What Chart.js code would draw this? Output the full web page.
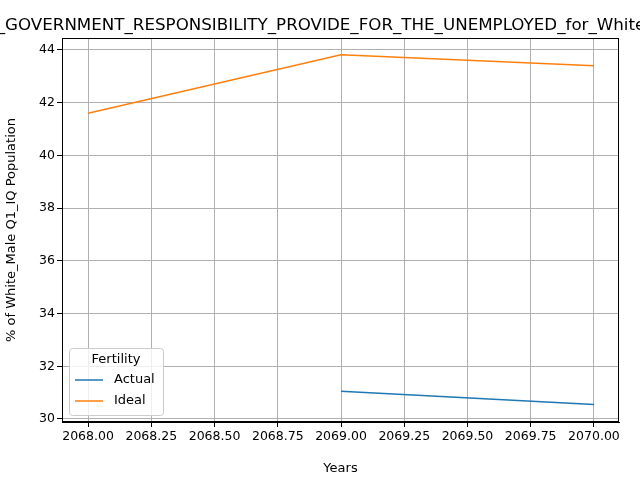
<!DOCTYPE html>
<html>
<head>
<script src="https://cdn.jsdelivr.net/npm/chart.js@4"></script>
<style>body{margin:0}#c{width:640px;height:480px}</style>
</head>
<body>
<div id="c"><canvas id="chart" width="640" height="480"></canvas></div>
<script>
// values
var years_actual=[2069,2070];
var actual=[31.05,30.55];
var years_ideal=[2068,2069,2070];
var ideal=[41.6,43.82,43.4];
var x_ticks=[2068,2068.25,2068.5,2068.75,2069,2069.25,2069.5,2069.75,2070];
var y_ticks=[30,32,34,36,38,40,42,44];
var titleText="Opinion_GOVERNMENT_RESPONSIBILITY_PROVIDE_FOR_THE_UNEMPLOYED_for_White_Male Q1_IQ";
var font="DejaVu Sans";

function pts(xs,ys){
    var out=[];
    for(var i=0;i<xs.length;i++){ out.push({x:xs[i],y:ys[i]}); }
    return out;
}

var titlePlugin={
    id:"mplTitle",
    afterDraw:function(chart){
        var ctx=chart.ctx;
        var a=chart.chartArea;
        ctx.save();
        // full box like matplotlib
        ctx.strokeStyle="#000";
        ctx.lineWidth=1;
        ctx.strokeRect(a.left+0.5,a.top+0.5,a.right-a.left-1,a.bottom-a.top-1);
        ctx.font="16.7px '"+font+"'";
        ctx.fillStyle="#000";
        ctx.textAlign="center";
        ctx.textBaseline="alphabetic";
        ctx.fillText(titleText,(a.left+a.right)/2,a.top-8);
        ctx.restore();
    }
};

var legendPlugin={
    id:"mplLegend",
    afterDraw:function(chart){
        var ctx=chart.ctx;
        var a=chart.chartArea;
        var x=a.left+7, y=a.bottom-7-67, w=94, h=67;
        ctx.save();
        ctx.fillStyle="rgba(255,255,255,0.8)";
        ctx.strokeStyle="#cccccc";
        ctx.lineWidth=1;
        ctx.beginPath();
        ctx.roundRect(x+0.5,y+0.5,w,h,3);
        ctx.fill();ctx.stroke();
        ctx.fillStyle="#000";
        ctx.font="13px '"+font+"'";
        ctx.textAlign="center";
        ctx.textBaseline="middle";
        ctx.fillText("Fertility",x+w/2,y+12);
        ctx.textAlign="left";
        chart.data.datasets.forEach(function(ds,i){
            var ly=y+32+i*21;
            ctx.strokeStyle=ds.borderColor;
            ctx.lineWidth=1.5;
            ctx.beginPath();ctx.moveTo(x+6,ly);ctx.lineTo(x+34,ly);ctx.stroke();
            ctx.fillText(ds.label,x+45,ly);
        });
        ctx.restore();
    }
};

function fixedTicks(list){
    return function(scale){
        scale.ticks=list.map(function(v){return {value:v};});
    };
}

new Chart(document.getElementById("chart").getContext("2d"),{
    type:"line",
    data:{
        datasets:[
            {label:"Actual",data:pts(years_actual,actual),borderColor:"#1f77b4",backgroundColor:"#1f77b4",borderWidth:1.5,pointRadius:0,tension:0},
            {label:"Ideal",data:pts(years_ideal,ideal),borderColor:"#ff7f0e",backgroundColor:"#ff7f0e",borderWidth:1.5,pointRadius:0,tension:0}
        ]
    },
    options:{
        responsive:false,
        animation:false,
        layout:{padding:{top:38,right:21,left:0,bottom:0}},
        plugins:{legend:{display:false},title:{display:false},tooltip:{enabled:false}},
        scales:{
            x:{
                type:"linear",min:2067.897,max:2070.099,
                ticks:{color:"#000",font:{family:font,size:12.5},maxRotation:0,autoSkip:false,padding:2,
                    callback:function(v){return v.toFixed(2);}},
                afterBuildTicks:fixedTicks(x_ticks),
                grid:{color:"#b0b0b0",tickColor:"#000",tickLength:5},
                border:{color:"#000"},
                title:{display:true,text:"Years",color:"#000",font:{family:font,size:13},padding:{top:4}},
                afterFit:function(s){s.height=58;}
            },
            y:{
                min:29.886,max:44.455,
                ticks:{color:"#000",font:{family:font,size:12.5},autoSkip:false,padding:2,
                    callback:function(v){return v.toFixed(0);}},
                afterBuildTicks:fixedTicks(y_ticks),
                grid:{color:"#b0b0b0",tickColor:"#000",tickLength:5},
                border:{color:"#000"},
                title:{display:true,text:"% of White_Male Q1_IQ Population",color:"#000",font:{family:font,size:13},padding:{bottom:2}},
                afterFit:function(s){s.width=62;}
            }
        }
    },
    plugins:[titlePlugin,legendPlugin]
});
</script>
</body>
</html>
